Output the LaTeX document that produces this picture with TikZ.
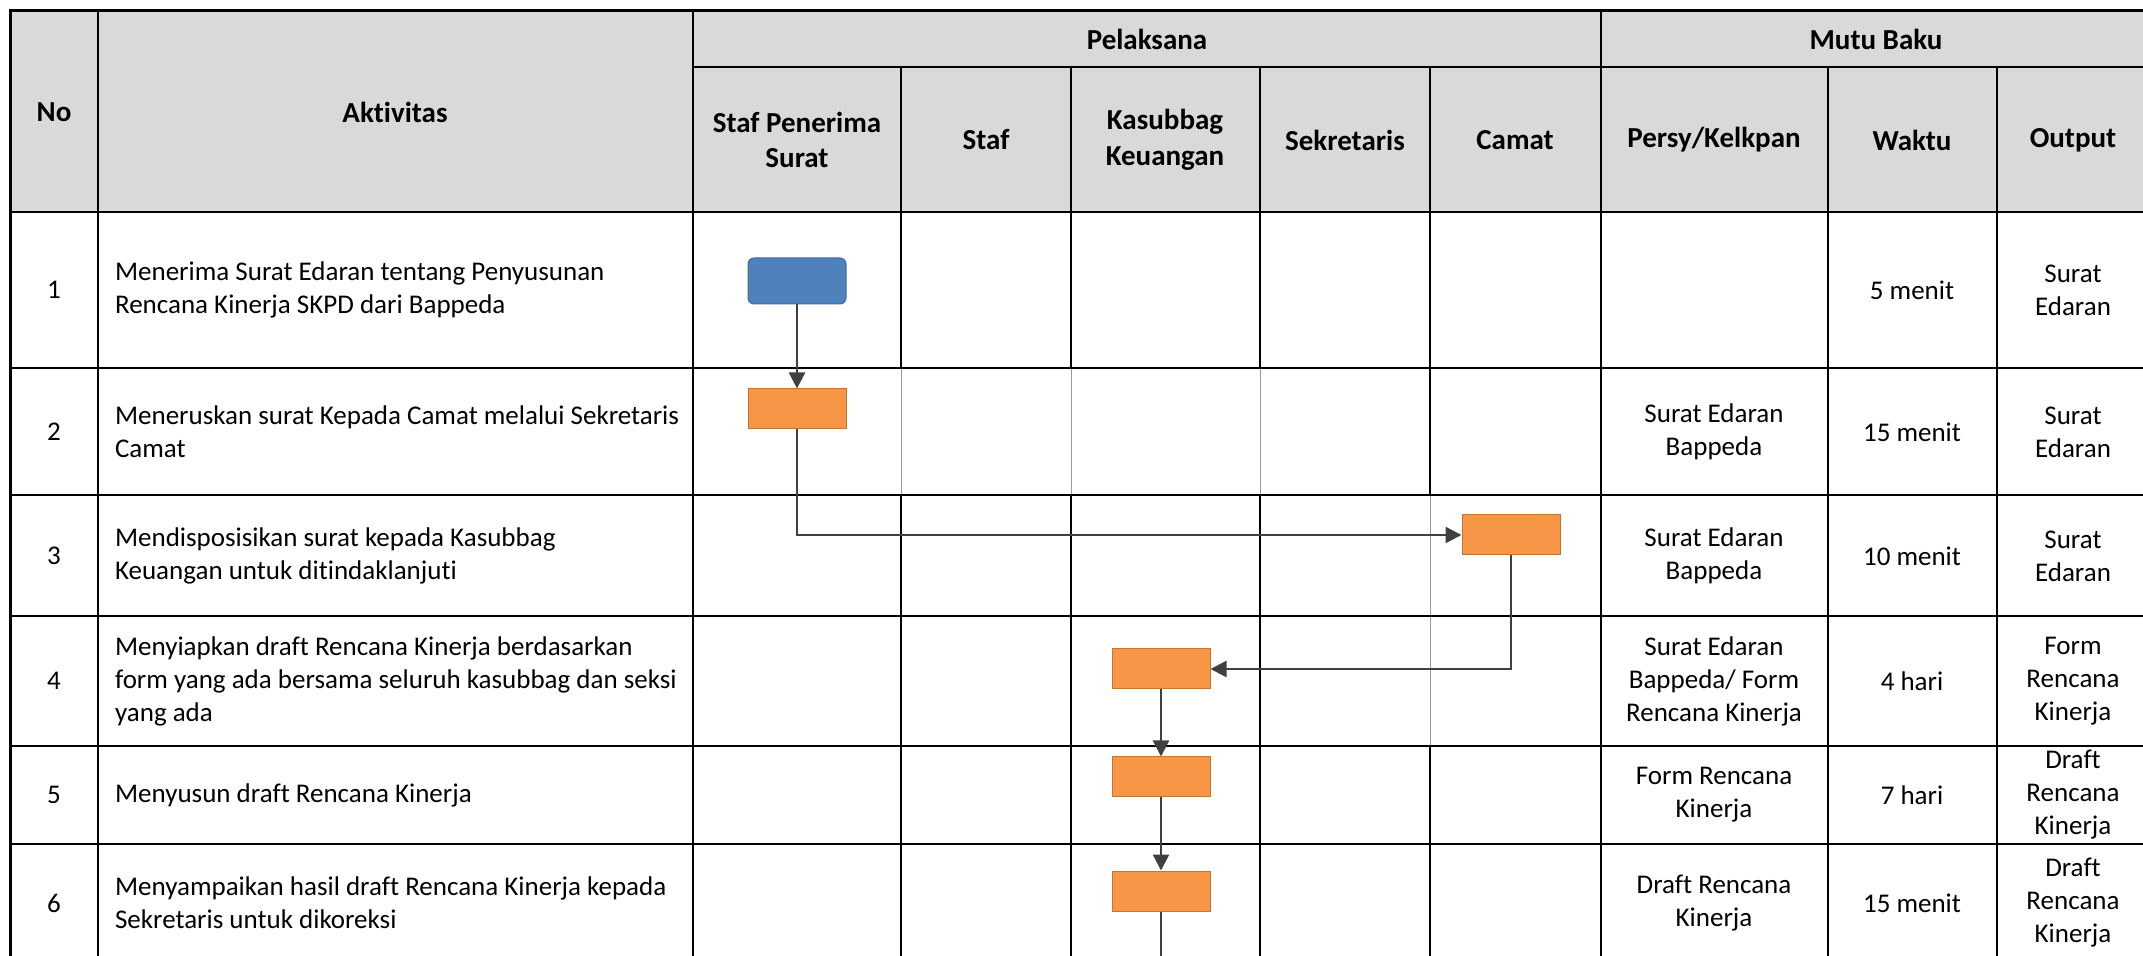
\documentclass[tikz,border=0pt]{standalone}
\usepackage{fontspec}
\setmainfont{Carlito}[Ligatures=CommonOff]
\usetikzlibrary{arrows.meta}

\definecolor{kepala}{HTML}{D9D9D9}
\definecolor{oranye}{HTML}{F79646}
\definecolor{oranyetepi}{HTML}{C8742F}
\definecolor{biru}{HTML}{4F81BD}
\definecolor{birutepi}{HTML}{3F6B9C}
\definecolor{panah}{HTML}{404040}

\begin{document}
\begin{tikzpicture}[x=0.5pt,y=-0.5pt,
  isi/.style={align=center,font=\fontsize{13.5}{16.5}\selectfont},
  judul/.style={align=center,font=\fontsize{14.5}{17.75}\selectfont\bfseries},
  aktivitas/.style={anchor=west,align=left,font=\fontsize{13.5}{16.5}\selectfont},
  proses/.style={draw=oranyetepi,fill=oranye,line width=0.5pt,minimum width=49pt,minimum height=20pt,inner sep=0pt},
  mulai/.style={draw=birutepi,fill=biru,line width=0.5pt,rounded corners=3pt,minimum width=49pt,minimum height=23pt,inner sep=0pt},
  alur/.style={draw=panah,line width=1.2pt,-{Triangle[length=8pt,width=8pt]}},
  baris/.style={line width=1.2pt},
  kolom/.style={line width=1pt},
  tipis/.style={draw=gray!80,line width=0.5pt}]

\useasboundingbox (0,0) rectangle (2143,956);
\clip (0,0) rectangle (2143,956);

\fill[kepala] (10,11) rectangle (2150,212);

\foreach \x in {98,693,1601} \draw[kolom] (\x,11) -- (\x,962);
\foreach \x in {901,1071,1260,1430,1828,1997} \draw[kolom] (\x,67) -- (\x,962);

\foreach \x/\ya/\yb in {901/368/495,1071/368/495,1260/368/495,1430/495/746}
  {\draw[white,line width=1.4pt] (\x,\ya) -- (\x,\yb);
   \draw[tipis] (\x,\ya) -- (\x,\yb);}

\draw[baris] (693,67) -- (2150,67);
\foreach \y in {212,368,495,616,746,844} \draw[baris] (10,\y) -- (2150,\y);
\draw[line width=1.5pt] (2150,11) -- (10,11) -- (10,962);

\node[judul] (hno) at (54,112) {No};
\node[judul] (haktivitas) at (395,112) {Aktivitas};
\node[judul] (hpelaksana) at (1147,39) {Pelaksana};
\node[judul] (hmutu) at (1876,39) {Mutu Baku};
\node[judul] (hpenerima) at (797,140) {Staf Penerima\\Surat};
\node[judul] (hstaf) at (986,140) {Staf};
\node[judul] (hkasubbag) at (1165,140) {Kasubbag\\Keuangan};
\node[judul] (hsekretaris) at (1345,140) {Sekretaris};
\node[judul] (hcamat) at (1515,140) {Camat};
\node[judul] (hpersy) at (1714,140) {Persy/Kelkpan};
\node[judul] (hwaktu) at (1912,140) {Waktu};
\node[judul] (houtput) at (2073,140) {Output};

\foreach \n/\y in {1/290,2/432,3/556,4/681,5/795,6/903}
  \node[isi] (no\n) at (54,\y) {\n};

\node[aktivitas] (akt1) at (108,290) {Menerima Surat Edaran tentang Penyusunan\\Rencana Kinerja SKPD dari Bappeda};
\node[aktivitas] (akt2) at (108,432) {Meneruskan surat Kepada Camat melalui Sekretaris\\Camat};
\node[aktivitas] (akt3) at (108,556) {Mendisposisikan surat kepada Kasubbag\\Keuangan untuk ditindaklanjuti};
\node[aktivitas] (akt4) at (108,681) {Menyiapkan draft Rencana Kinerja berdasarkan\\form yang ada bersama seluruh kasubbag dan seksi\\yang ada};
\node[aktivitas] (akt5) at (108,795) {Menyusun draft Rencana Kinerja};
\node[aktivitas] (akt6) at (108,903) {Menyampaikan hasil draft Rencana Kinerja kepada\\Sekretaris untuk dikoreksi};

\node[isi] (persy2) at (1714,432) {Surat Edaran\\Bappeda};
\node[isi] (persy3) at (1714,556) {Surat Edaran\\Bappeda};
\node[isi] (persy4) at (1714,681) {Surat Edaran\\Bappeda/ Form\\Rencana Kinerja};
\node[isi] (persy5) at (1714,795) {Form Rencana\\Kinerja};
\node[isi] (persy6) at (1714,903) {Draft Rencana\\Kinerja};

\node[isi] (waktu1) at (1912,290) {5 menit};
\node[isi] (waktu2) at (1912,432) {15 menit};
\node[isi] (waktu3) at (1912,556) {10 menit};
\node[isi] (waktu4) at (1912,681) {4 hari};
\node[isi] (waktu5) at (1912,795) {7 hari};
\node[isi] (waktu6) at (1912,903) {15 menit};

\node[isi] (output1) at (2073,290) {Surat\\Edaran};
\node[isi] (output2) at (2073,432) {Surat\\Edaran};
\node[isi] (output3) at (2073,556) {Surat\\Edaran};
\node[isi] (output4) at (2073,681) {Form\\Rencana\\Kinerja};
\node[isi] (output5) at (2073,795) {Draft\\Rencana\\Kinerja};
\node[isi] (output6) at (2073,903) {Draft\\Rencana\\Kinerja};

\node[mulai] (terima) at (797,281) {};
\node[proses] (teruskan) at (797,409) {};
\node[proses] (disposisi) at (1511,535) {};
\node[proses] (siapkan) at (1161,669) {};
\node[proses] (susun) at (1161,777) {};
\node[proses] (sampaikan) at (1161,891) {};
\coordinate (lanjut) at (1161,970);

\draw[alur] (terima) -- (teruskan);
\draw[alur] (teruskan.south) |- (disposisi.west);
\draw[alur] (disposisi.south) |- (siapkan.east);
\draw[alur] (siapkan) -- (susun);
\draw[alur] (susun) -- (sampaikan);
\draw[draw=panah,line width=1.2pt] (sampaikan) -- (lanjut);

\end{tikzpicture}
\end{document}
